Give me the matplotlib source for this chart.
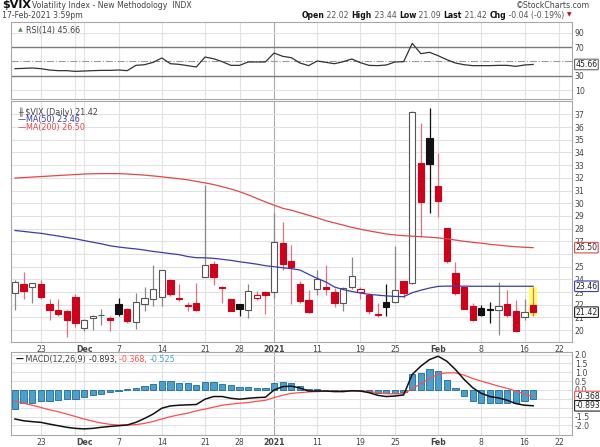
import matplotlib
matplotlib.use('Agg')
import matplotlib.pyplot as plt
from matplotlib.transforms import blended_transform_factory
import numpy as np

# ---- data ----
dates = ['2020-11-18', '2020-11-19', '2020-11-20', '2020-11-23', '2020-11-24', '2020-11-25',
         '2020-11-27', '2020-11-30', '2020-12-01', '2020-12-02', '2020-12-03', '2020-12-04',
         '2020-12-07', '2020-12-08', '2020-12-09', '2020-12-10', '2020-12-11', '2020-12-14',
         '2020-12-15', '2020-12-16', '2020-12-17', '2020-12-18', '2020-12-21', '2020-12-22',
         '2020-12-23', '2020-12-24', '2020-12-28', '2020-12-29', '2020-12-30', '2020-12-31',
         '2021-01-04', '2021-01-05', '2021-01-06', '2021-01-07', '2021-01-08', '2021-01-11',
         '2021-01-12', '2021-01-13', '2021-01-14', '2021-01-15', '2021-01-19', '2021-01-20',
         '2021-01-21', '2021-01-22', '2021-01-25', '2021-01-26', '2021-01-27', '2021-01-28',
         '2021-01-29', '2021-02-01', '2021-02-02', '2021-02-03', '2021-02-04', '2021-02-05',
         '2021-02-08', '2021-02-09', '2021-02-10', '2021-02-11', '2021-02-12', '2021-02-16',
         '2021-02-17']
future_dates = ['2021-02-18', '2021-02-19', '2021-02-22', '2021-02-23']

opens = [22.91, 23.61, 23.43, 23.64, 22.04, 21.62, 21.52, 22.62, 20.21, 20.99,
         21.18, 20.99, 22.04, 21.65, 20.65, 22.09, 22.49, 22.62, 23.95, 22.51,
         21.99, 22.12, 24.21, 25.24, 23.43, 22.43, 22.04, 21.57, 22.57, 23.01,
         22.98, 26.84, 25.45, 23.61, 22.38, 23.24, 23.40, 23.03, 22.11, 23.43,
         22.98, 22.77, 21.27, 22.19, 22.24, 23.87, 23.69, 33.19, 35.11, 31.38,
         28.02, 24.53, 23.37, 21.91, 21.77, 21.60, 21.56, 22.04, 21.51, 21.07, 22.02]
highs = [23.95, 24.58, 23.74, 23.95, 22.49, 22.49, 21.57, 22.88, 20.92, 21.20,
         21.65, 21.13, 22.57, 21.78, 22.96, 23.43, 25.13, 24.75, 24.06, 23.61,
         22.25, 23.69, 31.43, 25.47, 23.50, 22.49, 22.04, 23.66, 23.09, 23.10,
         29.20, 28.54, 26.71, 23.87, 23.20, 24.74, 25.13, 23.30, 23.43, 25.79,
         23.43, 22.90, 22.17, 23.64, 26.63, 23.87, 37.30, 36.29, 37.52, 33.93,
         28.02, 25.40, 23.43, 22.12, 21.99, 22.20, 23.82, 23.17, 22.38, 22.43, 23.44]
lows = [21.60, 22.49, 22.12, 22.43, 20.81, 21.13, 19.50, 20.29, 19.95, 20.03,
        20.39, 19.95, 21.13, 20.55, 20.08, 21.52, 21.91, 21.91, 22.70, 22.30,
        21.52, 21.50, 24.15, 23.53, 22.17, 21.50, 21.13, 20.94, 22.38, 21.26,
        22.51, 24.74, 22.04, 22.11, 21.33, 22.77, 22.77, 21.85, 21.54, 23.22,
        22.43, 21.27, 21.01, 21.14, 22.11, 22.51, 23.60, 27.37, 29.20, 28.94,
        25.27, 22.77, 21.64, 20.75, 21.14, 20.59, 19.62, 21.07, 19.89, 20.80, 21.09]
closes = [23.82, 23.09, 23.69, 22.62, 21.62, 21.26, 20.81, 20.60, 20.79, 21.13,
          21.22, 20.81, 21.26, 20.73, 22.25, 22.51, 23.27, 24.71, 22.88, 22.43,
          21.94, 21.57, 25.13, 24.21, 23.30, 21.52, 21.70, 23.09, 22.75, 22.74,
          26.92, 25.24, 24.98, 22.30, 21.46, 24.00, 23.24, 22.17, 23.29, 24.27,
          23.22, 21.51, 21.22, 21.85, 23.16, 22.95, 37.16, 30.12, 33.06, 30.17,
          25.48, 22.90, 21.70, 20.80, 21.20, 21.58, 21.91, 21.20, 19.94, 21.43, 21.42]

ma50 = [27.85, 27.78, 27.70, 27.63, 27.52, 27.42, 27.30, 27.20, 27.06, 26.93,
        26.80, 26.65, 26.55, 26.47, 26.40, 26.31, 26.20, 26.12, 26.03, 25.95,
        25.80, 25.71, 25.70, 25.66, 25.58, 25.50, 25.39, 25.30, 25.20, 25.08,
        25.00, 24.92, 24.85, 24.74, 24.40, 24.08, 23.80, 23.40, 23.20, 23.05,
        22.93, 22.82, 22.76, 22.70, 22.66, 22.64, 22.95, 23.15, 23.32, 23.45,
        23.47, 23.47, 23.47, 23.46, 23.46, 23.46, 23.46, 23.46, 23.46, 23.46, 23.46]
ma200 = [31.98, 32.02, 32.06, 32.10, 32.14, 32.18, 32.22, 32.26, 32.30, 32.32,
         32.33, 32.33, 32.33, 32.30, 32.26, 32.21, 32.15, 32.08, 32.00, 31.93,
         31.84, 31.72, 31.60, 31.47, 31.30, 31.12, 30.91, 30.66, 30.38, 30.10,
         29.85, 29.60, 29.45, 29.25, 29.05, 28.85, 28.62, 28.45, 28.28, 28.10,
         27.95, 27.82, 27.70, 27.58, 27.50, 27.45, 27.40, 27.37, 27.32, 27.27,
         27.20, 27.10, 27.00, 26.92, 26.85, 26.76, 26.70, 26.63, 26.57, 26.53, 26.50]

rsi = [39.8, 40.2, 40.7, 39.8, 37.9, 37.0, 37.0, 36.0, 36.5, 37.0,
       37.4, 37.4, 37.9, 37.0, 44.4, 45.3, 48.6, 54.7, 46.7, 45.8,
       44.0, 42.1, 56.0, 53.7, 49.5, 44.4, 44.4, 49.1, 49.1, 49.1,
       61.6, 57.0, 55.1, 47.7, 44.0, 50.5, 48.6, 46.7, 49.5, 53.3,
       48.1, 44.4, 44.0, 44.9, 49.1, 49.5, 75.1, 60.7, 62.6, 57.9,
       52.3, 47.7, 45.3, 44.0, 44.0, 44.0, 44.4, 44.4, 43.0, 44.9, 45.66]

macd = [-1.64, -1.74, -1.79, -1.83, -1.93, -2.02, -2.11, -2.17, -2.20, -2.17,
        -2.11, -2.06, -2.02, -1.98, -1.83, -1.61, -1.36, -1.03, -0.90, -0.86,
        -0.84, -0.82, -0.52, -0.37, -0.37, -0.47, -0.52, -0.47, -0.43, -0.41,
        0.00, 0.19, 0.22, 0.11, -0.06, -0.06, -0.06, -0.09, -0.09, -0.04,
        -0.06, -0.15, -0.30, -0.37, -0.34, -0.28, 0.88, 1.35, 1.72, 1.91,
        1.63, 1.16, 0.60, 0.13, -0.19, -0.37, -0.45, -0.58, -0.77, -0.86, -0.893]
signal = [-0.62, -0.75, -0.86, -0.99, -1.12, -1.23, -1.36, -1.50, -1.64, -1.76,
          -1.87, -1.94, -1.98, -1.98, -1.96, -1.89, -1.78, -1.64, -1.51, -1.40,
          -1.31, -1.18, -1.08, -0.97, -0.86, -0.80, -0.75, -0.71, -0.64, -0.58,
          -0.43, -0.30, -0.19, -0.15, -0.11, -0.09, -0.07, -0.07, -0.06, -0.06,
          -0.06, -0.09, -0.15, -0.21, -0.22, -0.21, 0.07, 0.36, 0.64, 0.90,
          0.97, 0.97, 0.84, 0.65, 0.50, 0.36, 0.22, 0.09, -0.06, -0.24, -0.368]
hist = [-1.05, -0.75, -0.71, -0.64, -0.60, -0.56, -0.52, -0.49, -0.39, -0.28,
        -0.21, -0.11, -0.04, 0.04, 0.13, 0.24, 0.36, 0.52, 0.52, 0.41,
        0.39, 0.30, 0.45, 0.47, 0.36, 0.26, 0.15, 0.15, 0.13, 0.13,
        0.41, 0.45, 0.41, 0.21, 0.04, 0.04, -0.02, -0.06, -0.06, -0.02,
        -0.02, -0.11, -0.15, -0.19, -0.19, -0.11, 0.90, 0.95, 1.16, 1.05,
        0.58, 0.09, -0.34, -0.64, -0.75, -0.75, -0.71, -0.71, -0.75, -0.64, -0.525]

label_dates = ['2020-11-23', '2020-12-01', '2020-12-07', '2020-12-14', '2020-12-21', '2020-12-28',
               '2021-01-04', '2021-01-11', '2021-01-19', '2021-01-25', '2021-02-01', '2021-02-08',
               '2021-02-16', '2021-02-22']
label_text = ['23', 'Dec', '7', '14', '21', '28', '2021', '11', '19', '25', 'Feb', '8', '16', '22']
week_dates = ['2020-11-23', '2020-11-30', '2020-12-07', '2020-12-14', '2020-12-21', '2020-12-28',
              '2021-01-04', '2021-01-11', '2021-01-19', '2021-01-25', '2021-02-01', '2021-02-08',
              '2021-02-16', '2021-02-22']
month_dates = ['2020-12-01', '2021-01-04', '2021-02-01']

rsi_ticks = [90, 70, 30, 10]          # 50 sits under the value box
price_ticks = [20, 21, 22, 23, 24, 25, 27, 28, 29, 30, 31, 32, 33, 34, 35, 36, 37]
macd_ticks = [2.0, 1.5, 1.0, 0.5, 0.0, -1.5, -2.0]
macd_grid = [2.0, 1.5, 1.0, 0.5, 0.0, -0.5, -1.0, -1.5, -2.0]

all_days = dates + future_dates
x = np.arange(len(dates))
tick_x = [all_days.index(d) for d in label_dates]
grid_x = sorted(set(all_days.index(d) for d in week_dates + month_dates))
year_x = all_days.index('2021-01-04')

RED = '#d0021b'
PINK = '#e8707e'
GRID = '#e2e2e2'
TXT = '#444444'

W, H = 600, 447
fig = plt.figure(figsize=(6, 4.47), dpi=100)
plt.rcParams['font.family'] = ['DejaVu Sans']


def px_axes(top, bottom, left=11, right=572):
    return fig.add_axes([left / W, 1 - bottom / H, (right - left) / W, (bottom - top) / H])


ax_rsi = px_axes(22, 99)
ax = px_axes(101, 342)
ax_m = px_axes(352, 435)

for a in (ax_rsi, ax, ax_m):
    a.set_xlim(-0.46, 64.5)
    for s in a.spines.values():
        s.set_color('#a8a8a8')
        s.set_linewidth(0.8)
    a.yaxis.tick_right()
    a.tick_params(length=0, labelsize=5.6, labelcolor=TXT, pad=2)
    for gx in grid_x:
        a.axvline(gx, color='#aaaaaa' if gx == year_x else GRID, lw=0.8, zorder=0)
    a.set_xticks(tick_x)

for a in (ax, ax_m):
    a.set_xticklabels(label_text)
    for t in a.get_xticklabels():
        if t.get_text() in ('Dec', '2021', 'Feb'):
            t.set_fontweight('bold')
ax_rsi.set_xticklabels([])

# ---- RSI panel ----
ax_rsi.set_ylim(-2.55, 104.9)
ax_rsi.set_yticks(rsi_ticks)
for lv in (90, 10):
    ax_rsi.axhline(lv, color=GRID, lw=0.8, zorder=0)
ax_rsi.axhline(70, color='#7a7a7a', lw=1.0)
ax_rsi.axhline(30, color='#7a7a7a', lw=1.0)
ax_rsi.axhline(50, color='#9a9a9a', lw=0.8, ls='-.')
ax_rsi.plot(x, rsi, color='#333333', lw=0.9)
ax_rsi.text(0.012, 0.93, '\u25B2', transform=ax_rsi.transAxes, fontsize=4.5, color='#5a8a5a', va='top')
ax_rsi.text(0.026, 0.95, 'RSI(14) 45.66', transform=ax_rsi.transAxes, fontsize=5.8, color=TXT, va='top')

# ---- price panel ----
ax.set_ylim(19.07, 38.05)
ax.set_yticks(price_ticks)
for lv in range(20, 38):
    ax.axhline(lv, color=GRID, lw=0.8, zorder=0)

ax.bar(x[-1], highs[-1] - lows[-1], bottom=lows[-1], width=1.0, color='#ffff60', zorder=1)

for i in x:
    o, h, l, c = opens[i], highs[i], lows[i], closes[i]
    gain = i == 0 or c >= closes[i - 1]
    hollow = c >= o
    if gain:
        edge = '#555555' if hollow else '#111111'
        wick = '#888888' if hollow else '#111111'
    else:
        edge = RED
        wick = PINK
    face = 'white' if hollow else edge
    ax.vlines(i, l, h, color=wick, lw=0.9, zorder=2)
    ax.bar(i, max(abs(c - o), 0.05), bottom=min(o, c), width=0.72,
           facecolor=face, edgecolor=edge, lw=0.8, zorder=3)

ax.plot(x, ma200, color='#e04848', lw=0.9, zorder=4)
ax.plot(x, ma50, color='#3c3ca8', lw=0.9, zorder=4)

ax.text(0.012, 0.975, '\u256B $VIX (Daily) 21.42', transform=ax.transAxes, fontsize=5.8, color=TXT, va='top')
ax.text(0.012, 0.942, '\u2014MA(50) 23.46', transform=ax.transAxes, fontsize=5.8, color='#3c3ca8', va='top')
ax.text(0.012, 0.909, '\u2014MA(200) 26.50', transform=ax.transAxes, fontsize=5.8, color='#e04848', va='top')


def value_box(a, y, s, ec):
    tr = blended_transform_factory(a.transAxes, a.transData)
    a.text(1.006, y, s, transform=tr, fontsize=5.6, color='#222222', va='center', ha='left',
           clip_on=False, zorder=10,
           bbox=dict(boxstyle='round,pad=0.1', fc='white', ec=ec, lw=0.8))


value_box(ax_rsi, rsi[-1], '45.66', '#666666')
value_box(ax, ma200[-1], '26.50', '#e04848')
value_box(ax, ma50[-1], '23.46', '#3c3ca8')
value_box(ax, closes[-1], '21.42', '#222222')

# ---- MACD panel ----
ax_m.set_ylim(-2.545, 2.149)
ax_m.set_yticks(macd_ticks)
ax_m.set_yticklabels(['%.1f' % v for v in macd_ticks])
for lv in macd_grid:
    ax_m.axhline(lv, color=GRID, lw=0.8, zorder=0)
ax_m.bar(x, hist, width=0.72, color='#4b9fcf', edgecolor='#1d6a98', lw=0.6, zorder=2)
ax_m.plot(x, signal, color='#ff4d4d', lw=0.9, zorder=3)
ax_m.plot(x, macd, color='#111111', lw=1.1, zorder=4)
value_box(ax_m, signal[-1], '-0.368', '#ff4d4d')
value_box(ax_m, macd[-1], '-0.893', '#222222')


def chain(a, x0, y0, pieces, transform):
    first = a.text(x0, y0, pieces[0][0], transform=transform, va='bottom', ha='left',
                   clip_on=False, **pieces[0][1])
    prev = first
    for s, kw in pieces[1:]:
        kw = dict(kw)
        yv = kw.pop('yrel', 0)
        prev = a.annotate(s, xy=(1, yv), xycoords=prev, va='bottom' if yv == 0 else 'center',
                          ha='left', annotation_clip=False, **kw)
    return first, prev


mk = dict(fontsize=5.8)
chain(ax_m, 0.008, 0.86, [
    ('\u2014', dict(color='#111111', fontsize=5.8, fontweight='bold')),
    (' MACD(12,26,9) ', dict(color=TXT, **mk)),
    ('-0.893, ', dict(color='#333333', **mk)),
    ('-0.368, ', dict(color='#ff4d4d', **mk)),
    ('-0.525', dict(color='#4b9fcf', **mk)),
], ax_m.transAxes)

# ---- header ----
fig.text(2 / W, 1 - 9.5 / H, '$VIX', fontsize=8, fontweight='bold', color='#111111', va='bottom')
fig.text(32 / W, 1 - 9.5 / H, 'Volatility Index - New Methodology  INDX', fontsize=5.6, color=TXT, va='bottom')
fig.text(2 / W, 1 - 20 / H, '17-Feb-2021 3:59pm', fontsize=5.6, color=TXT, va='bottom')
fig.text(590 / W, 1 - 9.5 / H, '\u00A9StockCharts.com', fontsize=5.6, color=TXT, va='bottom', ha='right')

hb = dict(fontsize=5.6, fontweight='bold', color='#111111')
hn = dict(fontsize=5.6, color='#555555')
first, last = chain(ax_rsi, 324 / W, 1 - 20 / H, [
    ('Open', hb), (' 22.02 ', hn), ('High', hb), (' 23.44 ', hn), ('Low', hb), (' 21.09 ', hn),
    ('Last', hb), (' 21.42 ', hn), ('Chg', hb), (' -0.04 (-0.19%) ', hn),
    ('\u25BC', dict(fontsize=4.2, color=RED, yrel=0.55)),
], fig.transFigure)

# right-align the header line so it ends near x = 571 px
fig.canvas.draw()
end_px = last.get_window_extent().x1
first.set_x(first.get_position()[0] + (571 - end_px) / W)

fig.savefig('out.png', dpi=100)
